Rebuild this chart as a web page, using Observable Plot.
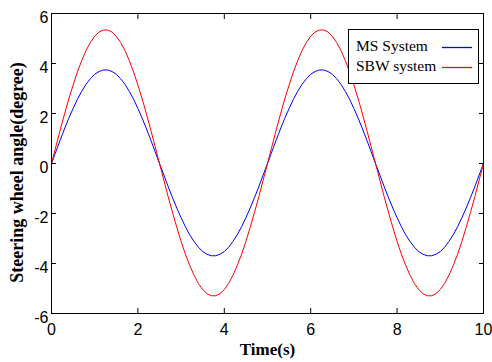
<!DOCTYPE html>
<html>
<head>
<meta charset="utf-8">
<script src="https://cdn.jsdelivr.net/npm/d3@7"></script>
<script src="https://cdn.jsdelivr.net/npm/@observablehq/plot@0.6"></script>
<style>
  body { margin: 0; background: #fff; }
  #wrap { position: relative; width: 492px; height: 362px; }
  #legend {
    position: absolute; left: 348px; top: 29px; width: 131px; height: 55px;
    border: 1px solid #000; background: #fff; box-sizing: border-box;
    font-family: "Liberation Serif", "Times New Roman", serif; font-size: 15.5px; color: #000;
  }
  .row { position: absolute; left: 7px; line-height: 18px; }
  .sw { position: absolute; width: 30px; height: 3px; overflow: visible; }
</style>
</head>
<body>
<div id="wrap"></div>
<script>
const time = [0,0.1,0.2,0.3,0.4,0.5,0.6,0.7,0.8,0.9,1,1.1,1.2,1.3,1.4,1.5,1.6,1.7,1.8,1.9,2,2.1,2.2,2.3,2.4,
  2.5,2.6,2.7,2.8,2.9,3,3.1,3.2,3.3,3.4,3.5,3.6,3.7,3.8,3.9,4,4.1,4.2,4.3,4.4,4.5,4.6,4.7,4.8,4.9,
  5,5.1,5.2,5.3,5.4,5.5,5.6,5.7,5.8,5.9,6,6.1,6.2,6.3,6.4,6.5,6.6,6.7,6.8,6.9,7,7.1,7.2,7.3,7.4,
  7.5,7.6,7.7,7.8,7.9,8,8.1,8.2,8.3,8.4,8.5,8.6,8.7,8.8,8.9,9,9.1,9.2,9.3,9.4,9.5,9.6,9.7,9.8,9.9,10];
const msSystem = [0,0.47,0.93,1.38,1.81,2.2,2.57,2.89,3.17,3.39,3.57,3.68,3.74,3.74,3.68,3.57,3.39,3.17,2.89,2.57,2.2,1.81,1.38,0.93,0.47,
  0,-0.46,-0.92,-1.36,-1.78,-2.17,-2.53,-2.85,-3.12,-3.35,-3.52,-3.63,-3.69,-3.69,-3.63,-3.52,-3.35,-3.12,-2.85,-2.53,-2.17,-1.78,-1.36,-0.92,-0.46,
  0,0.47,0.93,1.38,1.81,2.2,2.57,2.89,3.17,3.39,3.57,3.68,3.74,3.74,3.68,3.57,3.39,3.17,2.89,2.57,2.2,1.81,1.38,0.93,0.47,
  0,-0.46,-0.92,-1.36,-1.78,-2.17,-2.53,-2.85,-3.12,-3.35,-3.52,-3.63,-3.69,-3.69,-3.63,-3.52,-3.35,-3.12,-2.85,-2.53,-2.17,-1.78,-1.36,-0.92,-0.46,0];
const sbwSystem = [0,0.67,1.33,1.97,2.58,3.14,3.66,4.12,4.52,4.84,5.09,5.26,5.34,5.34,5.26,5.09,4.84,4.52,4.12,3.66,3.14,2.58,1.97,1.33,0.67,
  0,-0.66,-1.32,-1.95,-2.55,-3.12,-3.63,-4.08,-4.47,-4.8,-5.04,-5.21,-5.29,-5.29,-5.21,-5.04,-4.8,-4.47,-4.08,-3.63,-3.12,-2.55,-1.95,-1.32,-0.66,
  0,0.67,1.33,1.97,2.58,3.14,3.66,4.12,4.52,4.84,5.09,5.26,5.34,5.34,5.26,5.09,4.84,4.52,4.12,3.66,3.14,2.58,1.97,1.33,0.67,
  0,-0.66,-1.32,-1.95,-2.55,-3.12,-3.63,-4.08,-4.47,-4.8,-5.04,-5.21,-5.29,-5.29,-5.21,-5.04,-4.8,-4.47,-4.08,-3.63,-3.12,-2.55,-1.95,-1.32,-0.66,0];
const xTicks = [0,2,4,6,8,10];
const yTicks = [-6,-4,-2,0,2,4,6];
const seriesNames = ["MS System", "SBW system"];
const seriesColors = ["#0000ff", "#ff0000"];
const xLabel = "Time(s)";
const yLabel = "Steering wheel angle(degree)";

const ms = time.map((t, i) => ({t, v: msSystem[i]}));
const sbw = time.map((t, i) => ({t, v: sbwSystem[i]}));

const fmt = d => String(d);
const tickFont = {fontFamily: "Liberation Sans, Arial, sans-serif", fontSize: 16};
const chart = Plot.plot({
  width: 492, height: 362,
  marginLeft: 51, marginRight: 9, marginTop: 13, marginBottom: 49,
  style: {background: "#fff", color: "#000", fontFamily: "Liberation Sans, Arial, sans-serif", fontSize: "16px", overflow: "visible"},
  x: {domain: [0, 10]},
  y: {domain: [-6, 6]},
  marks: [
    Plot.line(ms, {x: "t", y: "v", stroke: seriesColors[0], strokeWidth: 1}),
    Plot.line(sbw, {x: "t", y: "v", stroke: seriesColors[1], strokeWidth: 1}),
    Plot.frame({stroke: "#000", strokeWidth: 1}),
    Plot.axisX(xTicks, {anchor: "bottom", tickSize: 0, tickPadding: 10, tickFormat: fmt, label: null, ...tickFont}),
    Plot.axisX(xTicks, {anchor: "bottom", tickSize: -5, tickFormat: () => "", label: null}),
    Plot.axisX(xTicks, {anchor: "top", tickSize: -5, tickFormat: () => "", label: null}),
    Plot.axisY(yTicks, {anchor: "left", tickSize: 0, tickPadding: 3, dy: 4, tickFormat: fmt, label: null, ...tickFont}),
    Plot.axisY(yTicks, {anchor: "left", tickSize: -5, tickFormat: () => "", label: null}),
    Plot.axisY(yTicks, {anchor: "right", tickSize: -5, tickFormat: () => "", label: null}),
    Plot.text([xLabel], {frameAnchor: "bottom", dy: 41, fontWeight: "bold", fontFamily: "Liberation Serif, Times New Roman, serif", fontSize: 17}),
    Plot.text([yLabel], {frameAnchor: "left", dx: -34, dy: 9, rotate: -90, textAnchor: "middle", fontWeight: "bold", fontFamily: "Liberation Serif, Times New Roman, serif", fontSize: 18})
  ]
});
const wrap = document.getElementById("wrap");
wrap.appendChild(chart);
const legend = document.createElement("div");
legend.id = "legend";
const NS = "http://www.w3.org/2000/svg";
seriesNames.forEach((name, i) => {
  const row = document.createElement("div");
  row.className = "row";
  row.style.top = (7 + i * 20) + "px";
  row.textContent = name;
  legend.appendChild(row);
  const sw = document.createElementNS(NS, "svg");
  sw.setAttribute("class", "sw");
  sw.setAttribute("width", "30");
  sw.setAttribute("height", "3");
  sw.style.left = "93px";
  sw.style.top = (16 + i * 20) + "px";
  const ln = document.createElementNS(NS, "line");
  ln.setAttribute("x1", "0"); ln.setAttribute("x2", "30");
  ln.setAttribute("y1", "1.5"); ln.setAttribute("y2", "1.5");
  ln.setAttribute("stroke", seriesColors[i]);
  ln.setAttribute("stroke-width", "1.3");
  sw.appendChild(ln);
  legend.appendChild(sw);
});
wrap.appendChild(legend);
</script>
</body>
</html>
